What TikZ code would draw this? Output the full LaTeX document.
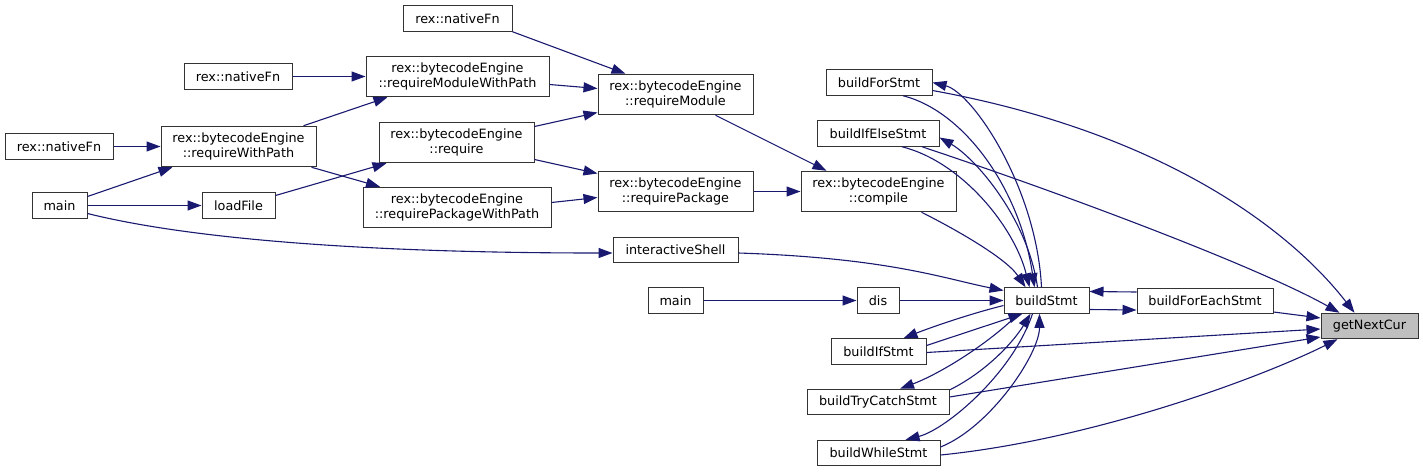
\documentclass[tikz,border=0pt]{standalone}
\usepackage{fontspec}
\setmainfont{DejaVu Sans}
\usepackage{xcolor}
\usepackage{tikz}
\usetikzlibrary{arrows.meta}

\definecolor{callblue}{HTML}{191970}
\definecolor{boxline}{HTML}{333333}

\begin{document}
\begin{tikzpicture}[
    x=1pt, y=-1pt,
    font=\fontsize{12.8}{15}\selectfont,
    func/.style ={draw=boxline, line width=1pt, fill=white, inner sep=0pt,
                  minimum height=25.5pt, align=center},
    func2/.style={func, minimum height=40.5pt},
    cur/.style  ={func, fill=black!25},
    call/.style ={-{Triangle[length=14pt,width=10pt]}, draw=callblue, line width=1.1pt}
]
\useasboundingbox (0,0) rectangle (1423,472);

% --- columns of functions, left to right ---
\node[func, minimum width=109pt]  (nfA)    at (457.5, 18.5) {rex::nativeFn};
\node[func, minimum width=108pt]  (nfB)    at (238,   76.5) {rex::nativeFn};
\node[func, minimum width=108pt]  (nfC)    at (59,   146.5) {rex::nativeFn};
\node[func, minimum width=55pt]   (mainA)  at (59.5, 205.5) {main};

\node[func2, minimum width=155pt] (rwp)    at (238.5,146.5) {rex::bytecodeEngine\\::requireWithPath};
\node[func, minimum width=73pt]   (load)   at (238.5,205.5) {loadFile};

\node[func2, minimum width=183pt] (rmwp)   at (457.5, 76.5) {rex::bytecodeEngine\\::requireModuleWithPath};
\node[func2, minimum width=155pt] (req)    at (456.5,142.5) {rex::bytecodeEngine\\::require};
\node[func2, minimum width=188pt] (rpwp)   at (457,  207.5) {rex::bytecodeEngine\\::requirePackageWithPath};

\node[func2, minimum width=155pt] (rm)     at (675.5, 94.5) {rex::bytecodeEngine\\::requireModule};
\node[func2, minimum width=155pt] (rp)     at (675.5,191.5) {rex::bytecodeEngine\\::requirePackage};
\node[func, minimum width=125pt]  (ishell) at (675.5,250)   {interactiveShell};
\node[func, minimum width=55pt]   (mainB)  at (675.5,300.5) {main};

\node[func, minimum width=106pt]  (bfor)   at (879,   82.5) {buildForStmt};
\node[func, minimum width=122pt]  (bife)   at (878,  133.5) {buildIfElseStmt};
\node[func2, minimum width=155pt] (comp)   at (878.5,191.5) {rex::bytecodeEngine\\::compile};
\node[func, minimum width=42pt]   (dis)    at (878,  300.5) {dis};
\node[func, minimum width=95pt]   (bif)    at (878.5,351.5) {buildIfStmt};
\node[func, minimum width=142pt]  (btry)   at (878,  402)   {buildTryCatchStmt};
\node[func, minimum width=123pt]  (bwhile) at (878.5,453)   {buildWhileStmt};

\node[func, minimum width=85pt]   (bstmt)  at (1046.5,300.5) {buildStmt};
\node[func, minimum width=136pt]  (bfe)    at (1205, 301)   {buildForEachStmt};
\node[cur,  minimum width=97pt]   (gnc)    at (1369.5,326)  {getNextCur};

% --- require chain ---
\draw[call] (nfA.south east) -- ([xshift=-50pt]rm.north);
\draw[call] ([yshift=-8pt]rmwp.east) -- ([yshift=6pt]rm.west);
\draw[call] ([yshift=16pt]req.east) -- ([yshift=-18pt]rm.west);
\draw[call] (nfB) -- (rmwp);
\draw[call] ([xshift=65pt]rwp.north) -- ([xshift=-70pt]rmwp.south);
\draw[call] (nfC) -- (rwp);
\draw[call] ([yshift=9pt]mainA.east) -- ([xshift=-66pt]rwp.south);
\draw[call] (mainA) -- (load);
\draw[call] ([yshift=10pt]load.east) -- ([xshift=-70pt]req.south);
\draw[call] ([xshift=73pt]rwp.south) -- ([xshift=-77pt]rpwp.north);
\draw[call] ([yshift=-8pt]mainA.east) .. controls +(100,25) and +(-250,0) .. ([yshift=-3pt]ishell.west);
\draw[call] ([yshift=-17pt]req.east) -- ([yshift=18pt]rp.west);
\draw[call] ([yshift=5pt]rpwp.east) -- ([yshift=-6pt]rp.west);
\draw[call] (rp) -- (comp);
\draw[call] ([xshift=40pt]rm.south) -- ([xshift=-52pt]comp.north);

% --- into buildStmt ---
\draw[call] ([xshift=43pt]comp.south) .. controls +(30,15) and +(-20,-30) .. ([xshift=-21pt]bstmt.north);
\draw[call] ([yshift=-3pt]ishell.east) .. controls +(150,5) and +(-60,-12) .. ([yshift=10pt]bstmt.west);
\draw[call] (dis) -- (bstmt);
\draw[call] (mainB) -- (dis);

% --- buildStmt <-> statement builders ---
\draw[call] ([xshift=24pt]bfor.south) .. controls +(60,15) and +(-15,-100) .. ([xshift=-12pt]bstmt.north);
\draw[call] ([xshift=-5pt]bstmt.north) .. controls +(-5,-100) and +(40,10) .. (bfor.east);
\draw[call] ([xshift=24pt]bife.south) .. controls +(60,15) and +(-15,-60) .. ([xshift=-17pt]bstmt.north);
\draw[call] ([xshift=-9pt]bstmt.north) .. controls +(-10,-70) and +(35,20) .. ([yshift=-4pt]bife.east);
\draw[call] ([yshift=-5pt]bstmt.west) .. controls +(-40,10) and +(20,-8) .. ([xshift=25pt]bif.north);
\draw[call] ([yshift=6pt]bif.east) -- ([xshift=-24pt]bstmt.south);
\draw[call] ([xshift=-28pt]bstmt.south) .. controls +(-30,30) and +(40,-15) .. ([xshift=22pt]btry.north);
\draw[call] ([yshift=12pt]btry.east) .. controls +(40,-20) and +(-15,25) .. ([xshift=-16pt]bstmt.south);
\draw[call] ([xshift=-14pt]bstmt.south) .. controls +(-20,60) and +(40,-10) .. ([xshift=27pt]bwhile.north);
\draw[call] ([yshift=6pt]bwhile.east) .. controls +(50,-20) and +(0,40) .. ([xshift=-7pt]bstmt.south);
\draw[call] ([yshift=9pt]bfe.west) -- ([yshift=9pt]bstmt.east);
\draw[call] ([yshift=-9pt]bstmt.east) -- ([yshift=-9pt]bfe.west);

% --- into getNextCur ---
\draw[call] ([yshift=-11pt]bfe.east) -- ([yshift=8pt]gnc.west);
\draw[call] ([yshift=-8pt]bfor.east) .. controls +(220,40) and +(-70,-90) .. ([xshift=-15pt]gnc.north);
\draw[call] ([xshift=44pt]bife.south) .. controls +(150,50) and +(-80,-45) .. ([xshift=-30pt]gnc.north);
\draw[call] ([yshift=-1pt]bif.east) -- ([yshift=-3pt]gnc.west);
\draw[call] ([yshift=5pt]btry.east) -- ([yshift=-11pt]gnc.west);
\draw[call] ([yshift=-2pt]bwhile.east) .. controls +(150,-15) and +(-80,40) .. ([xshift=-32pt]gnc.south);

\end{tikzpicture}
\end{document}
